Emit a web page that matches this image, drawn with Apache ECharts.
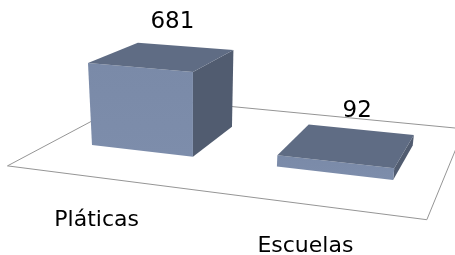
<!DOCTYPE html>
<html style="width: 100%; height: 100%">
<head>
    <meta charset="utf-8">
    <script src="https://cdn.jsdelivr.net/npm/echarts@6/dist/echarts.min.js"></script>
</head>
<body style="width: 100%; height: 100%; margin: 0; background: #fff">
<div id="container" style="width: 455px; height: 255px"></div>

<script type="text/javascript">
    var categories = ['Pláticas', 'Escuelas'];
    var values = [681, 92];

    // perspective "camera" (3 vanishing points), tuned by eye to the Excel 3D view
    var origin = [141.5, 150.8];
    var vpX = [-2500, -156], vpY = [193, 2215], vpZ = [572, -134];
    var kX = -0.06786, kY = -0.000057, kZ = 0.1126;
    var barW = 0.563;          // bar width in category units
    var floorZ = [-0.77, 1.72]; // floor depth, in bar-depth units
    var font = '"DejaVu Sans", sans-serif';

    function project(x, y, z) {
        var a = kX * x, b = kY * y, c = kZ * z;
        var w = 1 + a + b + c;
        return [
            (origin[0] + a * vpX[0] + b * vpY[0] + c * vpZ[0]) / w,
            (origin[1] + a * vpX[1] + b * vpY[1] + c * vpZ[1]) / w
        ];
    }

    // grid px -> world units (category index, data value)
    function toWorld(api, cat, val) {
        var p = api.coord([cat, val]);
        var o = api.coord([0, 0]);
        var band = api.size([1, 0])[0];
        var unit = api.size([0, 1])[1];
        return [(p[0] - o[0]) / band, (o[1] - p[1]) / unit];
    }

    function renderFloor(params, api) {
        var x0 = -0.5, x1 = categories.length - 0.5;
        var pts = [
            project(x0, 0, floorZ[0]), project(x1, 0, floorZ[0]),
            project(x1, 0, floorZ[1]), project(x0, 0, floorZ[1])
        ];
        return {
            type: 'polygon',
            shape: {points: pts},
            style: {fill: '#fff', stroke: '#959595', lineWidth: 1}
        };
    }

    function renderBar(params, api) {
        var wp = toWorld(api, api.value(0), api.value(1));
        var cx = wp[0], h = wp[1];
        var x0 = cx - barW / 2, x1 = cx + barW / 2;
        var front = [project(x0, 0, 0), project(x1, 0, 0), project(x1, h, 0), project(x0, h, 0)];
        var top = [project(x0, h, 0), project(x1, h, 0), project(x1, h, 1), project(x0, h, 1)];
        var side = [project(x1, 0, 0), project(x1, 0, 1), project(x1, h, 1), project(x1, h, 0)];
        var lbl = project(cx, h, 0.5);
        var cat = project(cx, 0, floorZ[0]);
        return {
            type: 'group',
            children: [
                {type: 'polygon', shape: {points: side}, style: {fill: '#515c70'}},
                {
                    type: 'polygon', shape: {points: front},
                    style: {
                        fill: new echarts.graphic.LinearGradient(0, 0, 0, 1, [
                            {offset: 0, color: '#7a8aa8'},
                            {offset: 1, color: '#7d8dab'}
                        ])
                    }
                },
                {type: 'polygon', shape: {points: top}, style: {fill: '#5f6c84'}},
                {
                    type: 'text', x: lbl[0] + 9, y: lbl[1] - 34,
                    style: {
                        text: String(api.value(1)), fill: '#000', font: '23px ' + font,
                        align: 'center', verticalAlign: 'middle'
                    }
                },
                {
                    type: 'text', x: cat[0] - 4, y: cat[1] + 42,
                    style: {
                        text: categories[params.dataIndex], fill: '#000', font: '22px ' + font,
                        align: 'center', verticalAlign: 'middle'
                    }
                }
            ]
        };
    }

    var dom = document.getElementById('container');
    var myChart = echarts.init(dom);

    var option = {
        animation: false,
        grid: {left: 40, right: 20, top: 40, bottom: 40},
        xAxis: {type: 'category', data: categories, show: false},
        yAxis: {type: 'value', min: 0, max: 800, show: false},
        series: [
            {
                type: 'custom',
                renderItem: renderFloor,
                data: [[0, 0]],
                clip: false,
                silent: true,
                z: 1
            },
            {
                type: 'custom',
                renderItem: renderBar,
                data: categories.map(function (c, i) { return [i, values[i]]; }),
                clip: false,
                z: 2
            }
        ]
    };
    myChart.setOption(option);
</script>
</body>
</html>
